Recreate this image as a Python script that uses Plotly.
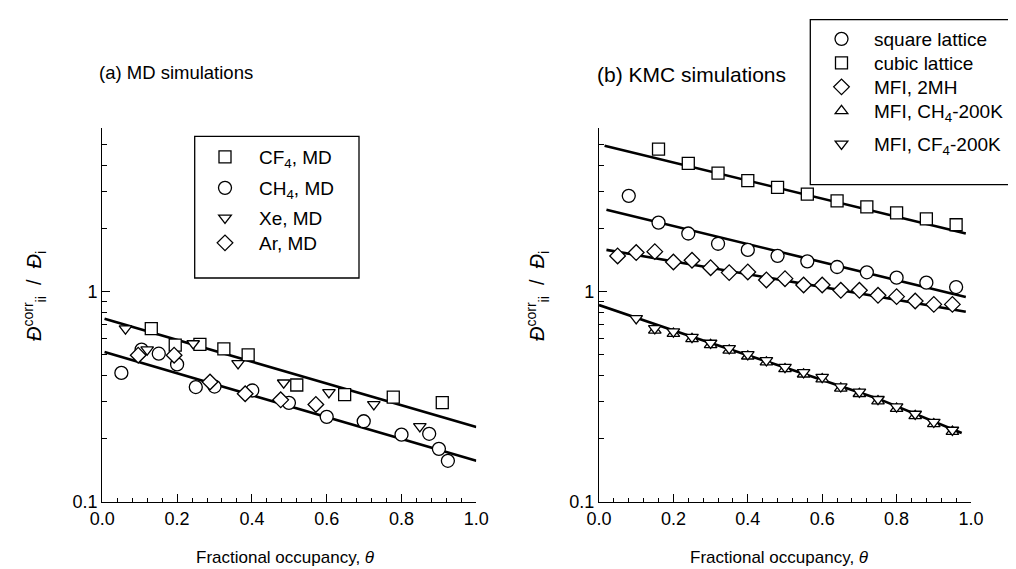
import numpy as np
import plotly.graph_objects as go

# ---------------- data: panel (a) MD simulations ----------------
md_cf4_x = [0.131, 0.195, 0.261, 0.325, 0.390, 0.520, 0.648, 0.778, 0.909]
md_cf4_y = [0.667, 0.557, 0.561, 0.535, 0.501, 0.360, 0.324, 0.315, 0.297]
md_ch4_x = [0.051, 0.105, 0.151, 0.200, 0.250, 0.300, 0.401, 0.499, 0.600, 0.699, 0.800, 0.874, 0.900, 0.924]
md_ch4_y = [0.411, 0.530, 0.507, 0.451, 0.352, 0.354, 0.339, 0.296, 0.254, 0.242, 0.209, 0.211, 0.179, 0.157]
md_xe_x = [0.062, 0.120, 0.243, 0.363, 0.485, 0.606, 0.726, 0.849]
md_xe_y = [0.667, 0.530, 0.567, 0.456, 0.369, 0.332, 0.291, 0.229]
md_ar_x = [0.096, 0.192, 0.288, 0.382, 0.477, 0.571]
md_ar_y = [0.499, 0.499, 0.372, 0.327, 0.306, 0.291]
md_fit_x = [0.006, 1.0]
md_fit_upper = [0.744, 0.227]
md_fit_lower = [0.516, 0.157]

# ---------------- data: panel (b) KMC simulations ----------------
kmc_square_x = [0.08, 0.16, 0.24, 0.32, 0.40, 0.48, 0.56, 0.64, 0.72, 0.80, 0.88, 0.96]
kmc_square_y = [2.855, 2.13, 1.89, 1.69, 1.58, 1.48, 1.394, 1.31, 1.236, 1.166, 1.104, 1.052]
kmc_cubic_x = [0.16, 0.24, 0.32, 0.40, 0.48, 0.56, 0.64, 0.72, 0.80, 0.88, 0.96]
kmc_cubic_y = [4.76, 4.07, 3.66, 3.37, 3.13, 2.91, 2.70, 2.53, 2.37, 2.22, 2.08]
kmc_2mh_x = [0.05, 0.10, 0.15, 0.20, 0.25, 0.30, 0.35, 0.40, 0.45, 0.50,
             0.55, 0.60, 0.65, 0.70, 0.75, 0.80, 0.85, 0.90, 0.95]
kmc_2mh_y = [1.479, 1.534, 1.55, 1.384, 1.41, 1.30, 1.232, 1.241, 1.137, 1.153,
             1.076, 1.076, 1.015, 1.015, 0.961, 0.947, 0.903, 0.870, 0.870]
kmc_ch4_x = [0.15, 0.20, 0.25, 0.30, 0.35, 0.40, 0.45, 0.50, 0.55,
             0.60, 0.65, 0.70, 0.75, 0.80, 0.85, 0.90, 0.95]
kmc_ch4_y = [0.655, 0.632, 0.596, 0.559, 0.526, 0.493, 0.462, 0.429, 0.405,
             0.384, 0.347, 0.327, 0.302, 0.278, 0.257, 0.235, 0.216]
kmc_cf4_x = [0.10, 0.15, 0.20, 0.25, 0.30, 0.35, 0.40, 0.45, 0.50, 0.55,
             0.60, 0.65, 0.70, 0.75, 0.80, 0.85, 0.90, 0.95]
kmc_cf4_y = [0.746, 0.669, 0.645, 0.608, 0.570, 0.537, 0.503, 0.471, 0.438, 0.413,
             0.392, 0.354, 0.334, 0.308, 0.284, 0.262, 0.240, 0.220]
fit_cubic_x = [0.015, 0.986]
fit_cubic_y = [4.94, 1.89]
fit_square_x = [0.02, 0.986]
fit_square_y = [2.45, 0.944]
fit_2mh_x = [0.02, 0.986]
fit_2mh_y = [1.58, 0.803]
fit_mfi_x = [0.0, 0.25, 0.50, 0.75, 0.975]
fit_mfi_y = [0.864, 0.610, 0.436, 0.310, 0.213]

# tick labels / text
x_tickvals = [0.0, 0.2, 0.4, 0.6, 0.8, 1.0]
x_ticktext = ["0.0", "0.2", "0.4", "0.6", "0.8", "1.0"]
y_tickvals = [0.1, 1]
y_ticktext = ["0.1", "1"]
y_minor = [0.2, 0.3, 0.4, 0.5, 0.6, 0.7, 0.8, 0.9, 2, 3, 4, 5, 6]

FONT = "Liberation Sans, Arial, sans-serif"
W, H = 1016, 569


def px(x):
    return x / W


def py(y):
    return 1 - y / H


fig = go.Figure()

mk = dict(color="white", line=dict(color="black", width=1.3))


def fit(x, y, xa, ya):
    fig.add_trace(go.Scatter(x=x, y=y, mode="lines", xaxis=xa, yaxis=ya,
                             line=dict(color="black", width=2.6),
                             showlegend=False, hoverinfo="skip"))


fit(md_fit_x, md_fit_upper, "x", "y")
fit(md_fit_x, md_fit_lower, "x", "y")
fit(fit_cubic_x, fit_cubic_y, "x2", "y2")
fit(fit_square_x, fit_square_y, "x2", "y2")
fit(fit_2mh_x, fit_2mh_y, "x2", "y2")
fit(fit_mfi_x, fit_mfi_y, "x2", "y2")

legend_layout = {}
leg_count = [0]


def pts(x, y, name, sym, size, xa, ya, lx, ly, iw, fs):
    leg_count[0] += 1
    key = "legend" if leg_count[0] == 1 else "legend%d" % leg_count[0]
    legend_layout[key] = dict(x=px(lx), y=py(ly), xanchor="left", yanchor="middle",
                              bgcolor="rgba(0,0,0,0)", borderwidth=0, itemwidth=iw,
                              font=dict(family=FONT, size=fs, color="black"))
    fig.add_trace(go.Scatter(x=x, y=y, mode="markers", name=name, xaxis=xa, yaxis=ya,
                             marker=dict(symbol=sym, size=size, **mk), legend=key))


# one legend per entry so that each row sits where the reference has it
pts(md_cf4_x, md_cf4_y, "CF<sub>4</sub>, MD", "square", 12, "x", "y", 183, 149, 58, 19)
pts(md_ch4_x, md_ch4_y, "CH<sub>4</sub>, MD", "circle", 13, "x", "y", 183, 180, 58, 19)
pts(md_xe_x, md_xe_y, "Xe, MD", "triangle-down", 11, "x", "y", 183, 210, 58, 19)
pts(md_ar_x, md_ar_y, "Ar, MD", "diamond", 12, "x", "y", 183, 235, 58, 19)

pts(kmc_square_x, kmc_square_y, "square lattice", "circle", 13, "x2", "y2", 801, 31, 55, 19)
pts(kmc_cubic_x, kmc_cubic_y, "cubic lattice", "square", 12, "x2", "y2", 801, 55, 55, 19)
pts(kmc_2mh_x, kmc_2mh_y, "MFI, 2MH", "diamond", 12, "x2", "y2", 801, 79, 55, 19)
pts(kmc_ch4_x, kmc_ch4_y, "MFI, CH<sub>4</sub>-200K", "triangle-up", 11, "x2", "y2", 801, 103, 55, 19)
pts(kmc_cf4_x, kmc_cf4_y, "MFI, CF<sub>4</sub>-200K", "triangle-down", 11, "x2", "y2", 801, 136, 55, 19)

xcommon = dict(range=[0, 1], tickvals=x_tickvals, ticktext=x_ticktext,
               ticks="inside", ticklen=8, tickwidth=1.2, tickcolor="black",
               showline=True, linecolor="black", linewidth=1.3, showgrid=False,
               zeroline=False, automargin=False,
               tickfont=dict(family=FONT, size=18, color="black"),
               minor=dict(dtick=0.04, ticks="inside", ticklen=4, tickwidth=1.1,
                          tickcolor="black", showgrid=False))
ycommon = dict(type="log", range=[-1, np.log10(6)], tickvals=y_tickvals, ticktext=y_ticktext,
               ticks="inside", ticklen=8, tickwidth=1.2, tickcolor="black",
               showline=True, linecolor="black", linewidth=1.3, showgrid=False,
               zeroline=False, automargin=False,
               tickfont=dict(family=FONT, size=18, color="black"),
               minor=dict(tickvals=y_minor, ticks="inside", ticklen=5, tickwidth=1.1,
                          tickcolor="black", showgrid=False))

ydom = [py(494), py(120)]
fig.update_layout(
    width=W, height=H, margin=dict(l=0, r=0, t=0, b=0, autoexpand=False),
    paper_bgcolor="white", plot_bgcolor="rgba(0,0,0,0)",
    font=dict(family=FONT, size=18, color="black"),
    xaxis=dict(domain=[px(94.3), px(468.3)], anchor="y", **xcommon),
    yaxis=dict(domain=ydom, anchor="x", **ycommon),
    xaxis2=dict(domain=[px(591), px(963)], anchor="y2", **xcommon),
    yaxis2=dict(domain=ydom, anchor="x2", **ycommon),
    showlegend=True,
    **legend_layout,
)

# legend boxes
fig.add_shape(type="rect", xref="paper", yref="paper",
              x0=px(186.7), x1=px(351), y0=py(270), y1=py(128.3),
              line=dict(color="black", width=1.3), layer="below")
fig.add_shape(type="rect", xref="paper", yref="paper",
              x0=px(802.3), x1=px(1015), y0=py(176.7), y1=py(11.7),
              line=dict(color="black", width=1.3), layer="below")

# panel titles
fig.add_annotation(text="(a) MD simulations", xref="paper", yref="paper",
                   x=px(89), y=py(65), xanchor="left", yanchor="middle",
                   showarrow=False, font=dict(family=FONT, size=18.5))
fig.add_annotation(text="(b) KMC simulations", xref="paper", yref="paper",
                   x=px(587), y=py(66), xanchor="left", yanchor="middle",
                   showarrow=False, font=dict(family=FONT, size=21))

# axis titles
ytitle = ("<i>Đ</i><sup>corr</sup><sub>ii</sub>\u00a0\u00a0/\u00a0\u00a0<i>Đ</i><sub>i</sub>")
for xc in (26, 529):
    fig.add_annotation(text=ytitle, xref="paper", yref="paper", x=px(xc), y=py(288),
                       xanchor="center", yanchor="middle", textangle=-90,
                       showarrow=False, font=dict(family=FONT, size=20))
xtitle = "Fractional occupancy, <i>θ</i>"
for xc in (277, 771):
    fig.add_annotation(text=xtitle, xref="paper", yref="paper", x=px(xc), y=py(549),
                       xanchor="center", yanchor="middle",
                       showarrow=False, font=dict(family=FONT, size=17))

fig.write_html("out.html")
